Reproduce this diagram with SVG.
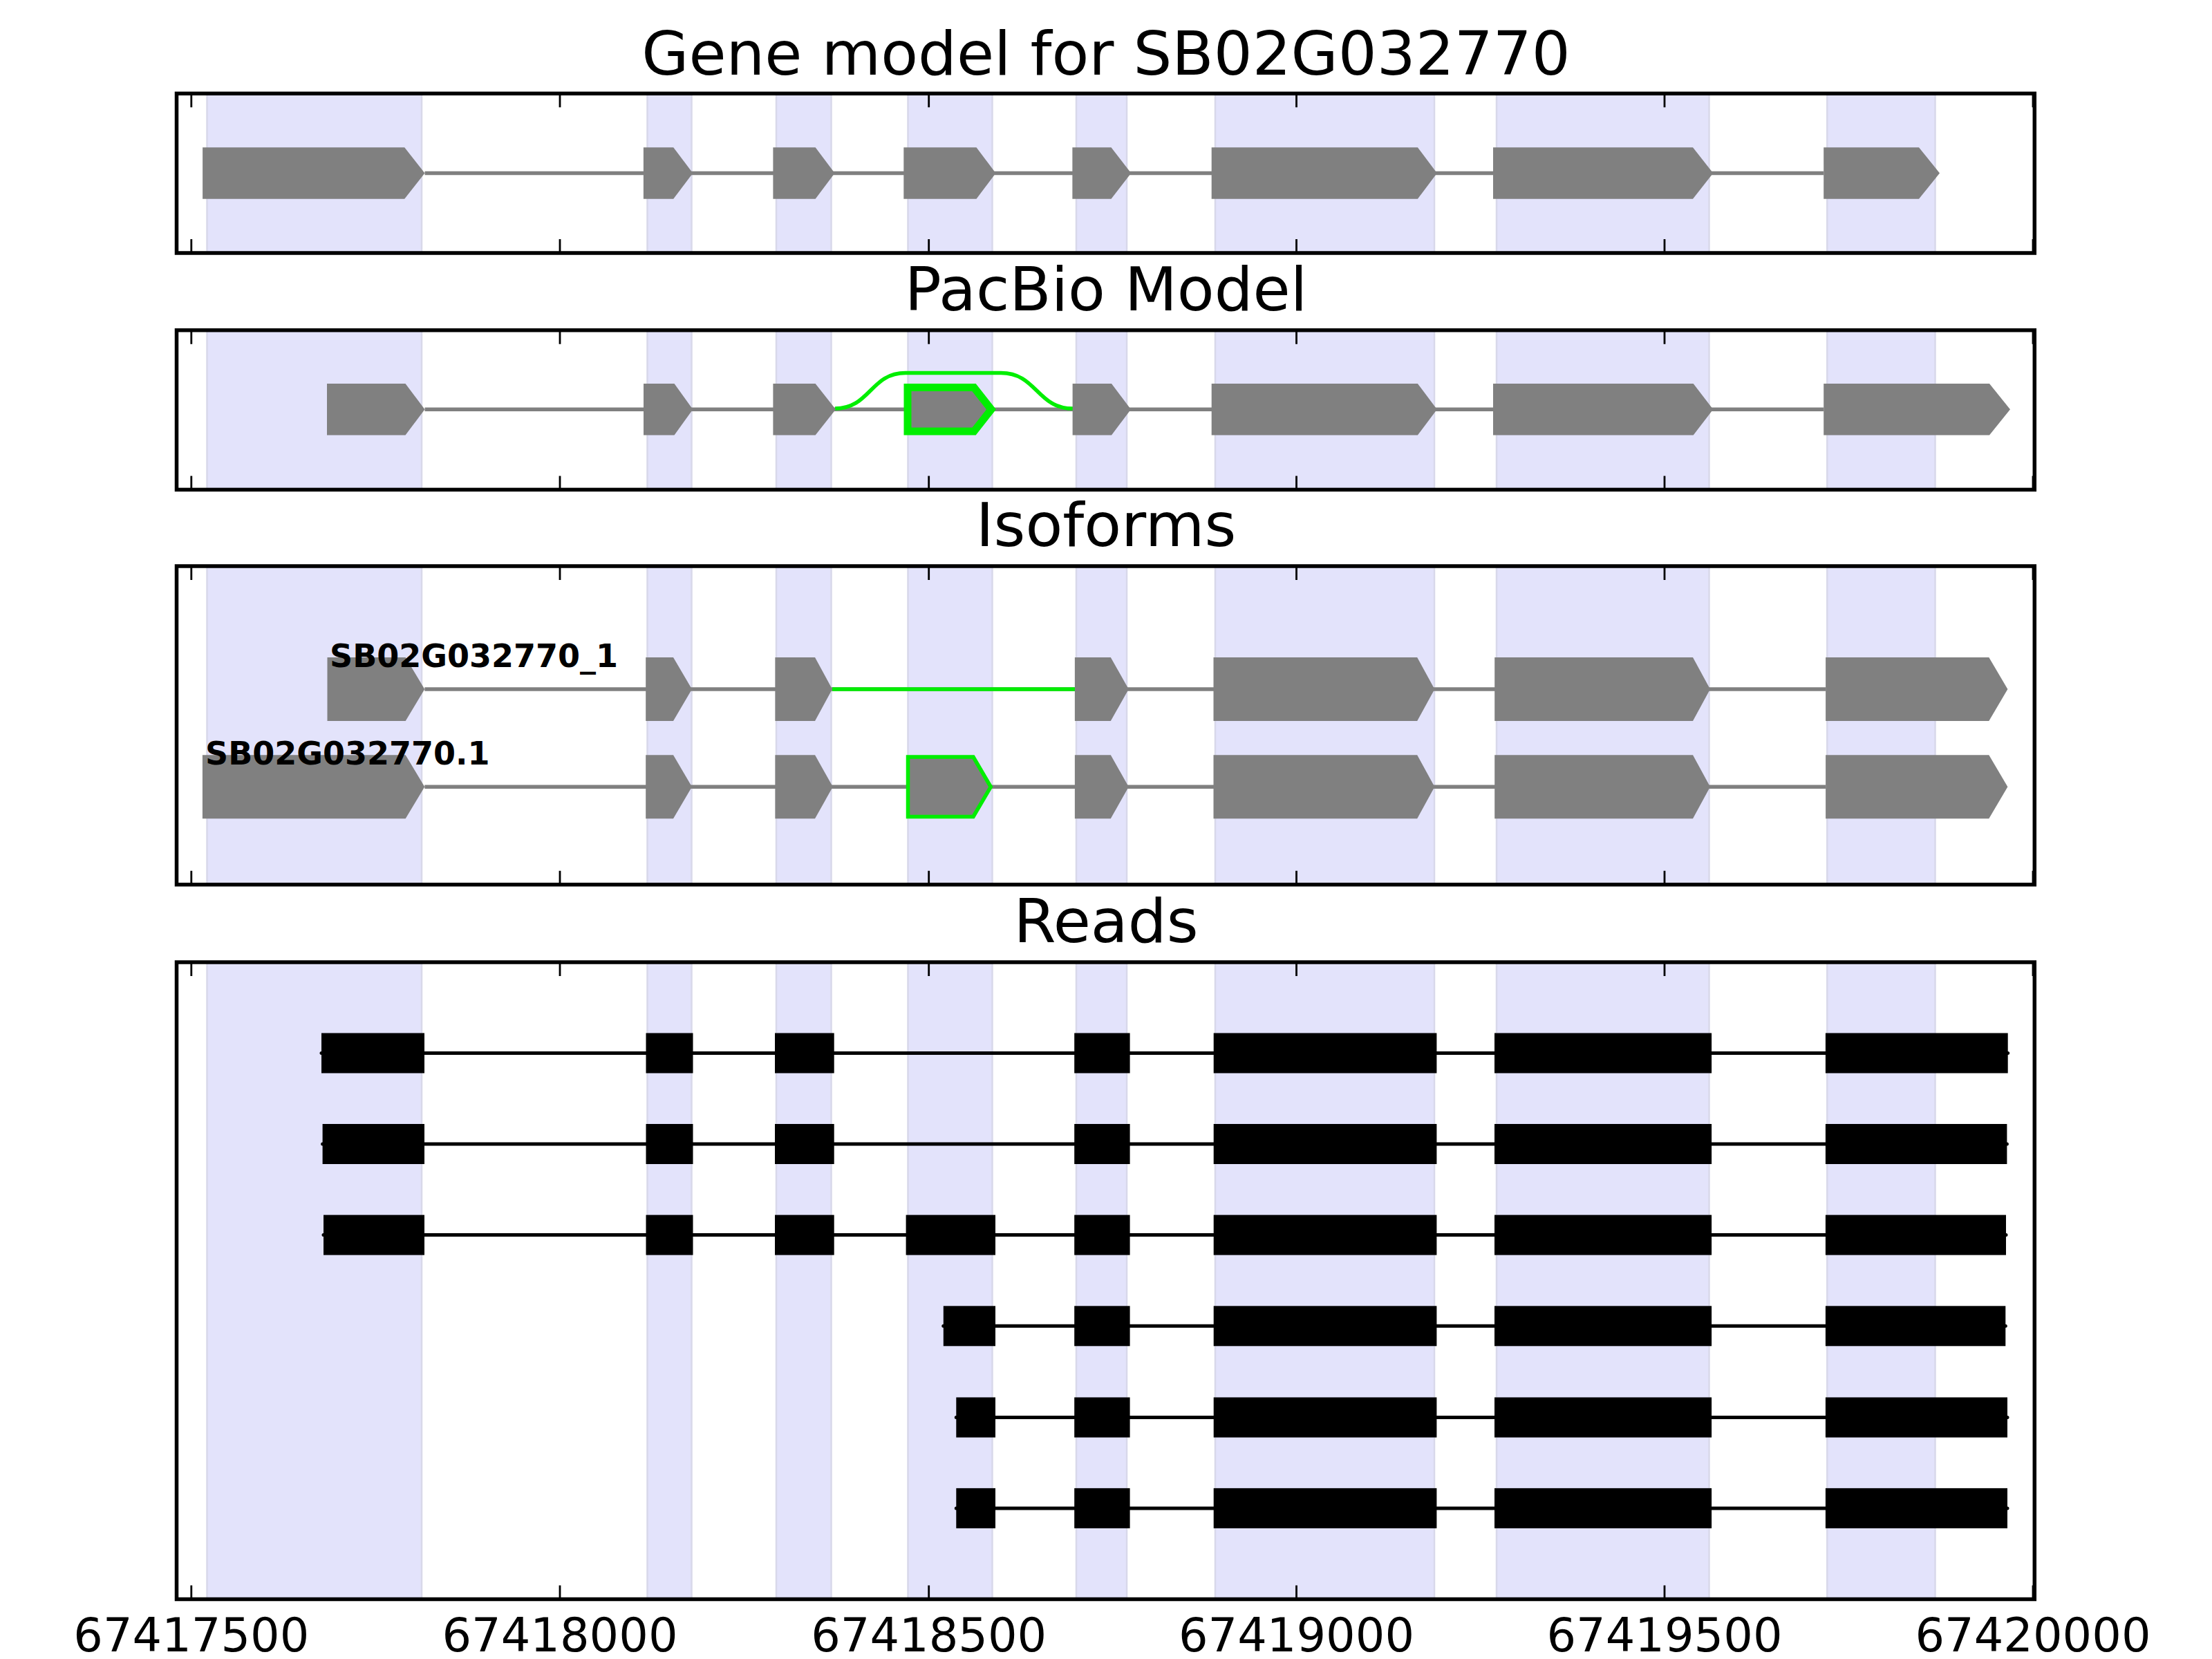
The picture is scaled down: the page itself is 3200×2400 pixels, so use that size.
<svg xmlns="http://www.w3.org/2000/svg" width="3200" height="2400" viewBox="0 0 3200 2400">
<style>
.bg{fill:#ffffff}
.span{fill:#e3e3fb;stroke:#d8d8ea;stroke-width:2.5}
.frame{fill:none;stroke:#000;stroke-width:5.5}
.tick{fill:none;stroke:#000;stroke-width:2.8}
.exon{fill:#808080}
.altexon{fill:#808080;stroke:#00ee00;stroke-linejoin:miter}
.intron{fill:none;stroke:#808080;stroke-width:5.5}
.alt{fill:none;stroke:#00ee00;stroke-width:5.5}
.read{fill:#000}
.readline{fill:none;stroke:#000;stroke-width:5;stroke-linecap:round}
.title{font-family:"DejaVu Sans","Liberation Sans",sans-serif;font-size:88px;text-anchor:middle;fill:#000}
.tl{font-family:"DejaVu Sans","Liberation Sans",sans-serif;font-size:67px;text-anchor:middle;fill:#000}
.lab{font-family:"DejaVu Sans","Liberation Sans",sans-serif;font-size:46px;font-weight:bold;fill:#000}
</style>
<rect class="bg" x="0" y="0" width="3200" height="2400"/>

<!-- highlighted exon spans -->
<g id="spans">
  <g id="spans-gene">
    <rect class="span" x="299.5" y="135.3" width="310.5" height="230.7"/>
    <rect class="span" x="936.5" y="135.3" width="64" height="230.7"/>
    <rect class="span" x="1123" y="135.3" width="79.5" height="230.7"/>
    <rect class="span" x="1313.5" y="135.3" width="122" height="230.7"/>
    <rect class="span" x="1557" y="135.3" width="73" height="230.7"/>
    <rect class="span" x="1758" y="135.3" width="317" height="230.7"/>
    <rect class="span" x="2165" y="135.3" width="307.5" height="230.7"/>
    <rect class="span" x="2643.3" y="135.3" width="156.2" height="230.7"/>
  </g>
  <g id="spans-pacbio">
    <rect class="span" x="299.5" y="477.7" width="310.5" height="230.7"/>
    <rect class="span" x="936.5" y="477.7" width="64" height="230.7"/>
    <rect class="span" x="1123" y="477.7" width="79.5" height="230.7"/>
    <rect class="span" x="1313.5" y="477.7" width="122" height="230.7"/>
    <rect class="span" x="1557" y="477.7" width="73" height="230.7"/>
    <rect class="span" x="1758" y="477.7" width="317" height="230.7"/>
    <rect class="span" x="2165" y="477.7" width="307.5" height="230.7"/>
    <rect class="span" x="2643.3" y="477.7" width="156.2" height="230.7"/>
  </g>
  <g id="spans-isoforms">
    <rect class="span" x="299.5" y="819" width="310.5" height="460.7"/>
    <rect class="span" x="936.5" y="819" width="64" height="460.7"/>
    <rect class="span" x="1123" y="819" width="79.5" height="460.7"/>
    <rect class="span" x="1313.5" y="819" width="122" height="460.7"/>
    <rect class="span" x="1557" y="819" width="73" height="460.7"/>
    <rect class="span" x="1758" y="819" width="317" height="460.7"/>
    <rect class="span" x="2165" y="819" width="307.5" height="460.7"/>
    <rect class="span" x="2643.3" y="819" width="156.2" height="460.7"/>
  </g>
  <g id="spans-reads">
    <rect class="span" x="299.5" y="1392" width="310.5" height="921.5"/>
    <rect class="span" x="936.5" y="1392" width="64" height="921.5"/>
    <rect class="span" x="1123" y="1392" width="79.5" height="921.5"/>
    <rect class="span" x="1313.5" y="1392" width="122" height="921.5"/>
    <rect class="span" x="1557" y="1392" width="73" height="921.5"/>
    <rect class="span" x="1758" y="1392" width="317" height="921.5"/>
    <rect class="span" x="2165" y="1392" width="307.5" height="921.5"/>
    <rect class="span" x="2643.3" y="1392" width="156.2" height="921.5"/>
  </g>
</g>

<!-- connectors: introns and read lines -->
<g id="connectors">
  <path class="intron" d="M614.5 250.5H2638.2"/>
  <path class="intron" d="M614.5 592.3H2638.2"/>
  <path class="intron" d="M614.3 997H2641.1"/>
  <path class="intron" d="M614.3 1138.3H2641.1"/>
  <path class="alt" d="M1208 591C1259 591 1259 539.5 1310 539.5H1448C1500 539.5 1500 591 1552 591"/>
  <path class="alt" d="M1204 997H1555"/>
  <path class="readline" d="M465 1523.5H2904.7"/>
  <path class="readline" d="M466.6 1655H2903.4"/>
  <path class="readline" d="M468 1786.6H2902"/>
  <path class="readline" d="M1364.8 1918.3H2901.3"/>
  <path class="readline" d="M1383.3 2050.5H2904"/>
  <path class="readline" d="M1383.3 2181.9H2904"/>
</g>

<!-- Gene model exons -->
<g id="gene-model">
  <g id="gene-exon1"><polygon class="exon" points="293.1,213.2 585.2,213.2 614.5,250.5 585.2,287.8 293.1,287.8"/></g>
  <g id="gene-exon2"><polygon class="exon" points="930.9,213.2 974.2,213.2 1002.3,250.5 974.2,287.8 930.9,287.8"/></g>
  <g id="gene-exon3"><polygon class="exon" points="1118.4,213.2 1179.6,213.2 1207.6,250.5 1179.6,287.8 1118.4,287.8"/></g>
  <g id="gene-exon4"><polygon class="exon" points="1307.3,213.2 1412.5,213.2 1440.5,250.5 1412.5,287.8 1307.3,287.8"/></g>
  <g id="gene-exon5"><polygon class="exon" points="1551.4,213.2 1607.5,213.2 1636.3,250.5 1607.5,287.8 1551.4,287.8"/></g>
  <g id="gene-exon6"><polygon class="exon" points="1752.7,213.2 2050.9,213.2 2078.9,250.5 2050.9,287.8 1752.7,287.8"/></g>
  <g id="gene-exon7"><polygon class="exon" points="2160,213.2 2449,213.2 2478.3,250.5 2449,287.8 2160,287.8"/></g>
  <g id="gene-exon8"><polygon class="exon" points="2638.2,213.2 2776,213.2 2806,250.5 2776,287.8 2638.2,287.8"/></g>
</g>

<!-- PacBio model exons -->
<g id="pacbio-model">
  <g id="pacbio-exon1"><polygon class="exon" points="473,555 586.5,555 614.5,592.3 586.5,629.6 473,629.6"/></g>
  <g id="pacbio-exon2"><polygon class="exon" points="931,555 975.5,555 1002.3,592.3 975.5,629.6 931,629.6"/></g>
  <g id="pacbio-exon3"><polygon class="exon" points="1118.4,555 1179.6,555 1209,592.3 1179.6,629.6 1118.4,629.6"/></g>
  <g id="pacbio-exon4"><polygon class="altexon" stroke-width="11" points="1313,560.5 1409,560.5 1434,592.3 1409,624.1 1313,624.1"/></g>
  <g id="pacbio-exon5"><polygon class="exon" points="1551.6,555 1608,555 1636,592.3 1608,629.6 1551.6,629.6"/></g>
  <g id="pacbio-exon6"><polygon class="exon" points="1752.7,555 2050.9,555 2078.9,592.3 2050.9,629.6 1752.7,629.6"/></g>
  <g id="pacbio-exon7"><polygon class="exon" points="2160,555 2449.7,555 2478.3,592.3 2449.7,629.6 2160,629.6"/></g>
  <g id="pacbio-exon8"><polygon class="exon" points="2638.2,555 2878,555 2908,592.3 2878,629.6 2638.2,629.6"/></g>
</g>

<!-- Isoforms -->
<g id="isoform-1">
  <g id="iso1-exon1"><polygon class="exon" points="473.5,951 586.7,951 614.3,997 586.7,1043 473.5,1043"/></g>
  <g id="iso1-exon2"><polygon class="exon" points="934.2,951 974,951 1001,997 974,1043 934.2,1043"/></g>
  <g id="iso1-exon3"><polygon class="exon" points="1121.4,951 1179,951 1204,997 1179,1043 1121.4,1043"/></g>
  <g id="iso1-exon4"><polygon class="exon" points="1554.9,951 1606.8,951 1632.8,997 1606.8,1043 1554.9,1043"/></g>
  <g id="iso1-exon5"><polygon class="exon" points="1755.5,951 2050.2,951 2075.4,997 2050.2,1043 1755.5,1043"/></g>
  <g id="iso1-exon6"><polygon class="exon" points="2162.2,951 2449,951 2474,997 2449,1043 2162.2,1043"/></g>
  <g id="iso1-exon7"><polygon class="exon" points="2641.1,951 2877.3,951 2904.4,997 2877.3,1043 2641.1,1043"/></g>
  <g id="iso1-label"><text class="lab" x="477" y="965">SB02G032770_1</text></g>
</g>
<g id="isoform-2">
  <g id="iso2-exon1"><polygon class="exon" points="292.9,1092.3 586.7,1092.3 614.3,1138.3 586.7,1184.3 292.9,1184.3"/></g>
  <g id="iso2-exon2"><polygon class="exon" points="934.2,1092.3 974,1092.3 1001,1138.3 974,1184.3 934.2,1184.3"/></g>
  <g id="iso2-exon3"><polygon class="exon" points="1121.4,1092.3 1179,1092.3 1204.8,1138.3 1179,1184.3 1121.4,1184.3"/></g>
  <g id="iso2-exon4"><polygon class="altexon" stroke-width="5.5" points="1313.5,1095.1 1408,1095.1 1433.3,1138.3 1408,1181.5 1313.5,1181.5"/></g>
  <g id="iso2-exon5"><polygon class="exon" points="1554.9,1092.3 1606.8,1092.3 1632.8,1138.3 1606.8,1184.3 1554.9,1184.3"/></g>
  <g id="iso2-exon6"><polygon class="exon" points="1755.5,1092.3 2050.2,1092.3 2075.4,1138.3 2050.2,1184.3 1755.5,1184.3"/></g>
  <g id="iso2-exon7"><polygon class="exon" points="2162.2,1092.3 2449,1092.3 2474,1138.3 2449,1184.3 2162.2,1184.3"/></g>
  <g id="iso2-exon8"><polygon class="exon" points="2641.1,1092.3 2877.3,1092.3 2904.4,1138.3 2877.3,1184.3 2641.1,1184.3"/></g>
  <g id="iso2-label"><text class="lab" x="297" y="1106">SB02G032770.1</text></g>
</g>

<!-- Reads -->
<g id="read-1">
  <rect class="read" x="465" y="1494.5" width="149" height="58"/>
  <rect class="read" x="934.5" y="1494.5" width="68" height="58"/>
  <rect class="read" x="1121" y="1494.5" width="85.7" height="58"/>
  <rect class="read" x="1554.2" y="1494.5" width="80.4" height="58"/>
  <rect class="read" x="1755.7" y="1494.5" width="322.7" height="58"/>
  <rect class="read" x="2162" y="1494.5" width="314.1" height="58"/>
  <rect class="read" x="2640.9" y="1494.5" width="263.8" height="58"/>
</g>
<g id="read-2">
  <rect class="read" x="466.6" y="1626" width="147.4" height="58"/>
  <rect class="read" x="934.5" y="1626" width="68" height="58"/>
  <rect class="read" x="1121" y="1626" width="85.7" height="58"/>
  <rect class="read" x="1554.2" y="1626" width="80.4" height="58"/>
  <rect class="read" x="1755.7" y="1626" width="322.7" height="58"/>
  <rect class="read" x="2162" y="1626" width="314.1" height="58"/>
  <rect class="read" x="2640.9" y="1626" width="262.5" height="58"/>
</g>
<g id="read-3">
  <rect class="read" x="468" y="1757.6" width="146" height="58"/>
  <rect class="read" x="934.5" y="1757.6" width="68" height="58"/>
  <rect class="read" x="1121" y="1757.6" width="85.7" height="58"/>
  <rect class="read" x="1310.6" y="1757.6" width="129.4" height="58"/>
  <rect class="read" x="1554.2" y="1757.6" width="80.4" height="58"/>
  <rect class="read" x="1755.7" y="1757.6" width="322.7" height="58"/>
  <rect class="read" x="2162" y="1757.6" width="314.1" height="58"/>
  <rect class="read" x="2640.9" y="1757.6" width="261.1" height="58"/>
</g>
<g id="read-4">
  <rect class="read" x="1364.8" y="1889.3" width="75.2" height="58"/>
  <rect class="read" x="1554.2" y="1889.3" width="80.4" height="58"/>
  <rect class="read" x="1755.7" y="1889.3" width="322.7" height="58"/>
  <rect class="read" x="2162" y="1889.3" width="314.1" height="58"/>
  <rect class="read" x="2640.9" y="1889.3" width="260.4" height="58"/>
</g>
<g id="read-5">
  <rect class="read" x="1383.3" y="2021.5" width="56.7" height="58"/>
  <rect class="read" x="1554.2" y="2021.5" width="80.4" height="58"/>
  <rect class="read" x="1755.7" y="2021.5" width="322.7" height="58"/>
  <rect class="read" x="2162" y="2021.5" width="314.1" height="58"/>
  <rect class="read" x="2640.9" y="2021.5" width="263.1" height="58"/>
</g>
<g id="read-6">
  <rect class="read" x="1383.3" y="2152.9" width="56.7" height="58"/>
  <rect class="read" x="1554.2" y="2152.9" width="80.4" height="58"/>
  <rect class="read" x="1755.7" y="2152.9" width="322.7" height="58"/>
  <rect class="read" x="2162" y="2152.9" width="314.1" height="58"/>
  <rect class="read" x="2640.9" y="2152.9" width="263.1" height="58"/>
</g>

<!-- axes frames and ticks -->
<g id="axes">
  <rect class="frame" x="255.5" y="135.3" width="2687.8" height="230.7"/>
  <rect class="frame" x="255.5" y="477.7" width="2687.8" height="230.7"/>
  <rect class="frame" x="255.5" y="819" width="2687.8" height="460.7"/>
  <rect class="frame" x="255.5" y="1392" width="2687.8" height="921.5"/>
  <path class="tick" d="M276.8 135.3v20M810 135.3v20M1343.7 135.3v20M1875.5 135.3v20M2408 135.3v20M2941 135.3v20M276.8 366v-20M810 366v-20M1343.7 366v-20M1875.5 366v-20M2408 366v-20M2941 366v-20"/>
  <path class="tick" d="M276.8 477.7v20M810 477.7v20M1343.7 477.7v20M1875.5 477.7v20M2408 477.7v20M2941 477.7v20M276.8 708.4v-20M810 708.4v-20M1343.7 708.4v-20M1875.5 708.4v-20M2408 708.4v-20M2941 708.4v-20"/>
  <path class="tick" d="M276.8 819v20M810 819v20M1343.7 819v20M1875.5 819v20M2408 819v20M2941 819v20M276.8 1279.7v-20M810 1279.7v-20M1343.7 1279.7v-20M1875.5 1279.7v-20M2408 1279.7v-20M2941 1279.7v-20"/>
  <path class="tick" d="M276.8 1392v20M810 1392v20M1343.7 1392v20M1875.5 1392v20M2408 1392v20M2941 1392v20M276.8 2313.5v-20M810 2313.5v-20M1343.7 2313.5v-20M1875.5 2313.5v-20M2408 2313.5v-20M2941 2313.5v-20"/>
</g>

<!-- titles -->
<g id="titles">
  <text class="title" x="1600" y="108">Gene model for SB02G032770</text>
  <text class="title" x="1600" y="449">PacBio Model</text>
  <text class="title" x="1600" y="790">Isoforms</text>
  <text class="title" x="1600" y="1363">Reads</text>
</g>

<!-- x tick labels -->
<g id="xticklabels">
  <text class="tl" x="276.8" y="2389">67417500</text>
  <text class="tl" x="810" y="2389">67418000</text>
  <text class="tl" x="1343.7" y="2389">67418500</text>
  <text class="tl" x="1875.5" y="2389">67419000</text>
  <text class="tl" x="2408" y="2389">67419500</text>
  <text class="tl" x="2941" y="2389">67420000</text>
</g>
</svg>
